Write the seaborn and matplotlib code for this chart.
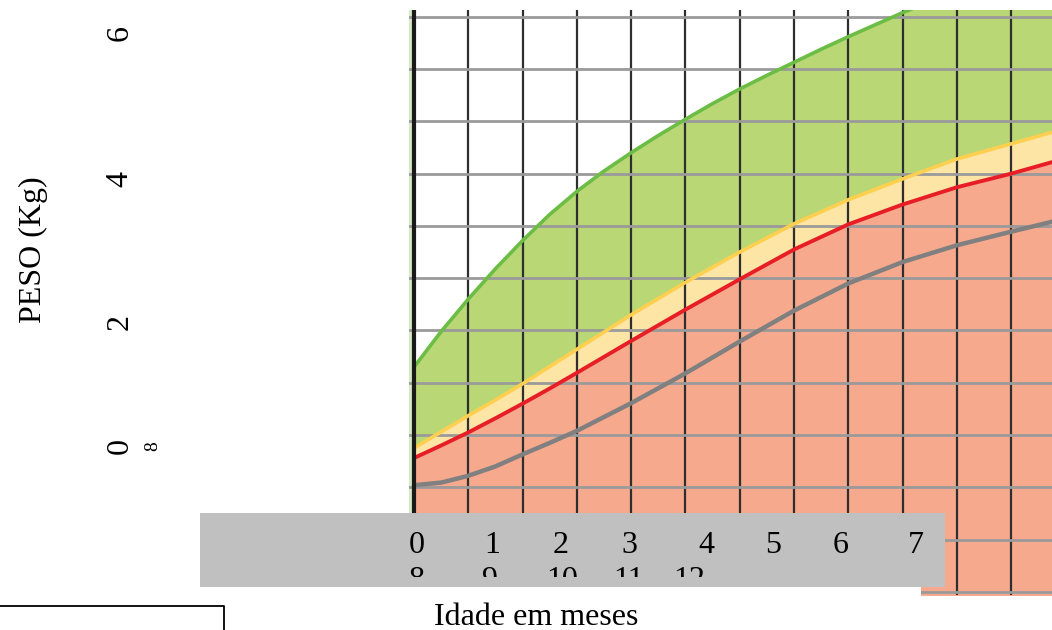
import numpy as np
import pandas as pd
import seaborn as sns
import matplotlib.pyplot as plt
from matplotlib.patches import Rectangle
from matplotlib.lines import Line2D

# ---------------- data ----------------
# x in grid columns, y in grid rows above the bottom line
idade = [0, 0.5, 1, 1.5, 2, 2.5, 3, 4, 5, 6, 7, 8, 9, 10, 11, 11.75]
curva_amarela = [2.75, 3.06, 3.37, 3.67, 3.98, 4.31, 4.64, 5.3, 5.92, 6.5, 7.04, 7.5, 7.9, 8.28, 8.57, 8.79]
curva_vermelha = [2.56, 2.8, 3.05, 3.32, 3.6, 3.89, 4.19, 4.8, 5.4, 5.98, 6.55, 7.03, 7.41, 7.74, 8.0, 8.22]
curva_cinza = [2.04, 2.09, 2.22, 2.4, 2.63, 2.85, 3.08, 3.61, 4.18, 4.79, 5.38, 5.9, 6.31, 6.63, 6.89, 7.08]

idade_verde = [0, 0.5, 1, 1.5, 2, 2.5, 3, 3.5, 4, 4.5, 5, 5.5, 6, 6.5, 7, 7.5, 8, 8.5, 9, 10, 11, 11.75]
curva_verde = [4.3, 4.98, 5.6, 6.18, 6.72, 7.22, 7.66, 8.05, 8.4, 8.73, 9.04, 9.34, 9.62, 9.88,
               10.13, 10.38, 10.62, 10.85, 11.08, 11.5, 11.88, 12.15]

peso_ticks = ["6", "4", "2", "0"]
meses_linha1 = ["0", "1", "2", "3", "4", "5", "6", "7"]
meses_linha2 = ["8", "9", "10", "11", "12"]

df = pd.DataFrame({"idade": idade, "amarela": curva_amarela,
                   "vermelha": curva_vermelha, "cinza": curva_cinza})
dv = pd.DataFrame({"idade": idade_verde, "verde": curva_verde})

# ---------------- figure ----------------
sns.set_theme(style="white")
plt.rcParams['font.family'] = ['Liberation Serif', 'DejaVu Serif']
plt.rcParams['text.color'] = 'black'

W, H = 1052, 630
fig = plt.figure(figsize=(W / 100, H / 100), dpi=100)


def fx(px):
    return px / W


def fy(py):
    return 1 - py / H


# chart area (the growth chart picture)
ax = fig.add_axes([fx(409), fy(595), fx(1052) - fx(409), fy(10) - fy(595)])
ax.set_xlim(-0.092, 11.75)
ax.set_ylim(-0.06, 11.13)

# green zone: everything below the green curve, then the others painted on top
ax.fill_between(dv["idade"], -1, dv["verde"], color="#BAD775", lw=0, zorder=1)
ax.fill_between(df["idade"], -1, df["amarela"], color="#FDE5A6", lw=0, zorder=1.1)
ax.fill_between(df["idade"], -1, df["vermelha"], color="#F6A98D", lw=0, zorder=1.2)
ax.axvspan(-0.2, -0.02, color="#d6e9c3", lw=0, zorder=0.5)

ax.set_xticks(np.arange(0, 12))
ax.set_yticks(np.arange(0, 12))
ax.xaxis.grid(True, color="#2e2e2e", lw=1.6)
ax.yaxis.grid(True, color="#9a9a9a", lw=2.0)
ax.set_axisbelow(False)
ax.tick_params(labelbottom=False, labelleft=False, length=0)
for s in ax.spines.values():
    s.set_visible(False)

sns.lineplot(data=df, x="idade", y="amarela", color="#FFD050", lw=2.6, ax=ax, zorder=3)
sns.lineplot(data=dv, x="idade", y="verde", color="#6CBD45", lw=2.6, ax=ax, zorder=3)
sns.lineplot(data=df, x="idade", y="vermelha", color="#E81E26", lw=2.8, ax=ax, zorder=3)
sns.lineplot(data=df, x="idade", y="cinza", color="#808080", lw=3.2, ax=ax, zorder=3)
ax.axvline(0, color="#1a1a1a", lw=3, zorder=3.5)
ax.set_xlabel("")
ax.set_ylabel("")

# ---------------- overlaid text frames ----------------
fs = 23
fig.text(fx(33), fy(250), "PESO (Kg)", rotation=90, ha="center", va="center", fontsize=fs)
for lab, py in zip(peso_ticks, [33, 179, 322, 446]):
    fig.text(fx(120), fy(py), lab, rotation=90, ha="center", va="center", fontsize=fs)
fig.text(fx(153), fy(446), "8", rotation=90, ha="center", va="center", fontsize=14)

# white strip under the grey box, then the grey box
fig.patches.append(Rectangle((fx(200), fy(600)), fx(921) - fx(200), fy(586) - fy(600),
                             transform=fig.transFigure, facecolor="white", edgecolor="none", zorder=4))
fig.patches.append(Rectangle((fx(200), fy(587)), fx(945) - fx(200), fy(513) - fy(587),
                             transform=fig.transFigure, facecolor="#C0C0C0", edgecolor="none", zorder=5))

for lab, px in zip(meses_linha1, [417, 492, 561, 629, 706, 773, 841, 916]):
    fig.text(fx(px), fy(553), lab, ha="center", va="baseline", fontsize=fs, zorder=6)

# second row only partly visible (clipped by the text frame)
ax_clip = fig.add_axes([fx(200), fy(577), fx(945) - fx(200), fy(513) - fy(577)], zorder=7)
ax_clip.set_axis_off()
for lab, px in zip(meses_linha2, [417, 490, 562, 629, 689]):
    ax_clip.text(fx(px), fy(588), lab, ha="center", va="baseline", fontsize=fs,
                 transform=fig.transFigure, clip_on=True)

fig.text(fx(434), fy(625), "Idade em meses", ha="left", va="baseline", fontsize=fs)

# frame corner at bottom left
fig.lines.append(Line2D([0, fx(224), fx(224)], [fy(606), fy(606), 0],
                        transform=fig.transFigure, color="black", lw=1.3))

fig.savefig("out.png", dpi=100)
